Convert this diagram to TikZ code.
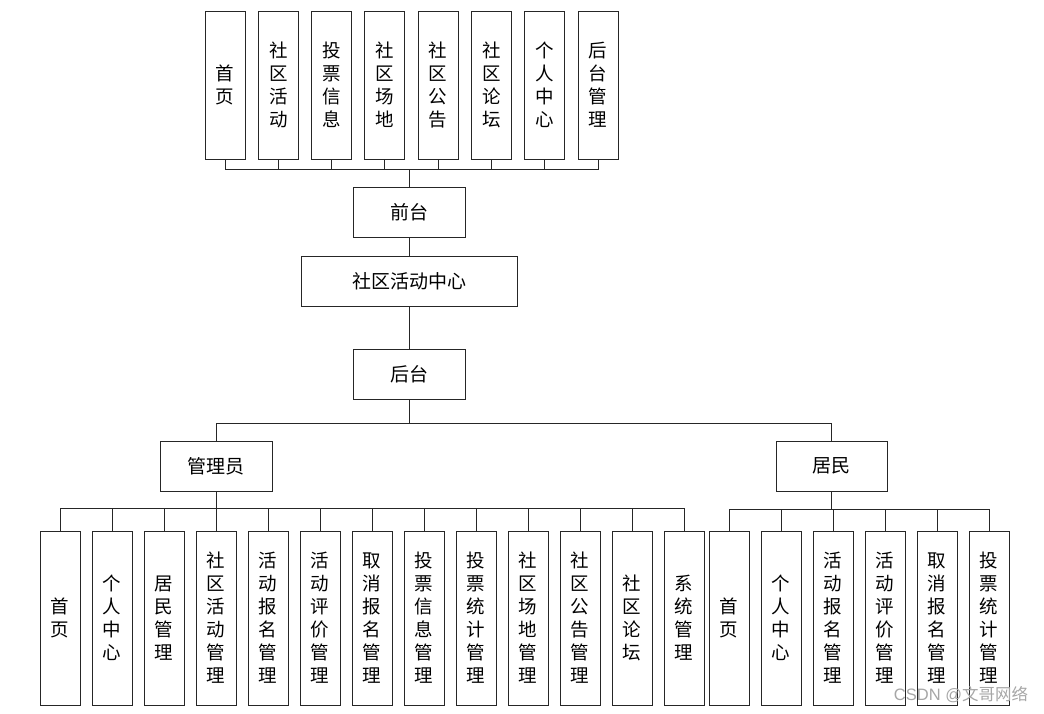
\documentclass[tikz,border=0pt]{standalone}
\usepackage{fontspec}
\newfontfamily\cjk{Noto Sans CJK SC}
\begin{document}
\begin{tikzpicture}[x=1pt,y=-1pt,
  ln/.style={draw=black!85, line width=0.9pt},
  vbox/.style={ln, fill=white, minimum width=40pt, inner sep=0pt, align=center,
    font=\cjk\fontsize{18.5}{23}\selectfont},
  hbox/.style={ln, fill=white, minimum height=50pt, inner sep=0pt,
    font=\cjk\fontsize{19}{23}\selectfont},
  wire/.style={draw=black!85, line width=0.9pt}]
\useasboundingbox (0,0) rectangle (1044,713);
% top row
\foreach \i/\t in {0/{首\\页},1/{社\\区\\活\\动},2/{投\\票\\信\\息},3/{社\\区\\场\\地},4/{社\\区\\公\\告},5/{社\\区\\论\\坛},6/{个\\人\\中\\心},7/{后\\台\\管\\理}}
  \node[vbox, minimum height=148pt] (t\i) at ({225+53.3*\i},85) {\t};
\node[hbox, minimum width=112pt] (qt) at (409,212) {前台};
\node[hbox, minimum width=216pt] (zx) at (409,281) {社区活动中心};
\node[hbox, minimum width=112pt] (ht) at (409,374) {后台};
\node[hbox, minimum width=112pt] (gly) at (216,466) {管理员};
\node[hbox, minimum width=111pt] (jm) at (831.5,466) {居民};
\coordinate (tbus) at (409,169);
\coordinate (hbus) at (409,423);
\coordinate (abus) at (216,508);
\coordinate (rbus) at (831.5,509);
% admin children
\foreach \i/\t in {0/{首\\页},1/{个\\人\\中\\心},2/{居\\民\\管\\理},3/{社\\区\\活\\动\\管\\理},4/{活\\动\\报\\名\\管\\理},5/{活\\动\\评\\价\\管\\理},6/{取\\消\\报\\名\\管\\理},7/{投\\票\\信\\息\\管\\理},8/{投\\票\\统\\计\\管\\理},9/{社\\区\\场\\地\\管\\理},10/{社\\区\\公\\告\\管\\理},11/{社\\区\\论\\坛},12/{系\\统\\管\\理}}
  \node[vbox, minimum height=174pt] (a\i) at ({60+52*\i},618) {\t};
% resident children
\foreach \i/\t in {0/{首\\页},1/{个\\人\\中\\心},2/{活\\动\\报\\名\\管\\理},3/{活\\动\\评\\价\\管\\理},4/{取\\消\\报\\名\\管\\理},5/{投\\票\\统\\计\\管\\理}}
  \node[vbox, minimum height=174pt] (r\i) at ({729+52*\i},618) {\t};
% connectors
\foreach \i in {0,...,7} \draw[wire] (t\i.south) |- (tbus);
\draw[wire] (tbus) -- (qt.north);
\draw[wire] (qt.south) -- (zx.north);
\draw[wire] (zx.south) -- (ht.north);
\draw[wire] (ht.south) -- (hbus);
\draw[wire] (gly.north) |- (hbus);
\draw[wire] (jm.north) |- (hbus);
\draw[wire] (gly.south) -- (abus);
\foreach \i in {0,...,12} \draw[wire] (a\i.north) |- (abus);
\draw[wire] (jm.south) -- (rbus);
\foreach \i in {0,...,5} \draw[wire] (r\i.north) |- (rbus);
\node[text=black!35, font=\fontspec{Liberation Sans}\fontsize{16.5}{18}\selectfont, inner sep=0pt] (wm) at (961,695) {CSDN @\cjk 文哥网络};
\end{tikzpicture}
\end{document}
